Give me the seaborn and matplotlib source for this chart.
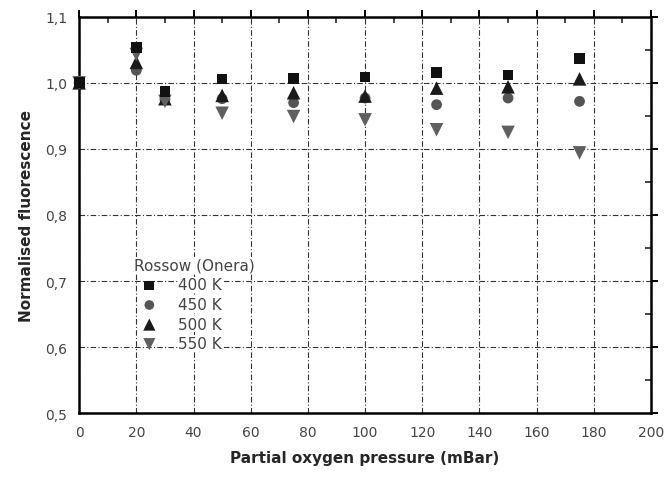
"""
Normalised fluorescence vs partial oxygen pressure (Rossow, Onera).
"""

import matplotlib
matplotlib.use("Agg")
import matplotlib.pyplot as plt
import matplotlib.ticker as mticker
import seaborn as sns
import pandas as pd

# pressures (mBar)
pressure = [0, 20, 30, 50, 75, 100, 125, 150, 175]

# normalised fluorescence per temperature
fluo_400 = [1.000, 1.054, 0.987, 1.006, 1.007, 1.009, 1.016, 1.012, 1.037]
fluo_450 = [1.000, 1.019, 0.975, 0.976, 0.970, 0.977, 0.967, 0.977, 0.972]
fluo_500 = [1.000, 1.031, 0.976, 0.981, 0.985, 0.980, 0.992, 0.994, 1.006]
fluo_550 = [1.000, 1.043, 0.972, 0.954, 0.949, 0.944, 0.929, 0.925, 0.894]

labels = ["400 K", "450 K", "500 K", "550 K"]

rows = []
for lab, vals in zip(labels, [fluo_400, fluo_450, fluo_500, fluo_550]):
    for p, v in zip(pressure, vals):
        rows.append({"pressure": p, "fluo": v, "temp": lab})
df = pd.DataFrame(rows)

sns.set_style("white")
plt.rcParams["font.family"] = ["DejaVu Sans"]

fig = plt.figure(figsize=(6.65, 4.81), dpi=100)
ax = fig.add_axes([0.119, 0.139, 0.860, 0.824])

palette = {"400 K": "#111111", "450 K": "#555555", "500 K": "#1a1a1a", "550 K": "#606060"}
markers = {"400 K": "s", "450 K": "o", "500 K": "^", "550 K": "v"}
sizes = {"400 K": 60, "450 K": 60, "500 K": 95, "550 K": 95}
zorders = {"400 K": 6, "450 K": 3, "500 K": 4, "550 K": 5}

for lab in labels:
    sub = df[df["temp"] == lab]
    sns.scatterplot(data=sub, x="pressure", y="fluo", color=palette[lab],
                    marker=markers[lab], s=sizes[lab], edgecolor="none",
                    ax=ax, label=lab, zorder=zorders[lab], clip_on=False)

ax.set_xlim(0, 200)
ax.set_ylim(0.5, 1.1)
ax.xaxis.set_major_locator(mticker.MultipleLocator(20))
ax.xaxis.set_minor_locator(mticker.MultipleLocator(10))
ax.yaxis.set_major_locator(mticker.MultipleLocator(0.1))
ax.yaxis.set_minor_locator(mticker.MultipleLocator(0.05))
ax.yaxis.set_major_formatter(mticker.FuncFormatter(lambda v, _: f"{v:.1f}".replace(".", ",")))

ax.grid(True, which="major", color="#333333", linestyle=(0, (5, 2, 1, 2)), linewidth=0.8)
for sp in ax.spines.values():
    sp.set_linewidth(1.8)
    sp.set_color("black")

ax.tick_params(which="major", direction="out", length=5, width=1.4,
               labelsize=10, labelcolor="#444444", color="black")
ax.tick_params(which="minor", direction="in", length=4, width=1.2)
ax.tick_params(which="both", top=True, right=True)
ax.tick_params(axis="both", which="both", labeltop=False, labelright=False)

ax.set_xlabel("Partial oxygen pressure (mBar)", fontsize=11, fontweight="bold", labelpad=8)
ax.set_ylabel("Normalised fluorescence", fontsize=11, fontweight="bold", labelpad=8)

leg = ax.legend(title="Rossow (Onera)", loc="upper left", bbox_to_anchor=(0.08, 0.415),
                frameon=False, fontsize=11, title_fontsize=11, handletextpad=0.9,
                labelspacing=0.3, borderpad=0.1, markerscale=0.9, alignment="left")
leg.set_zorder(10)
leg.get_title().set_color("#444444")
leg.get_title().set_bbox(dict(facecolor="white", edgecolor="none", pad=0.5))
for t in leg.get_texts():
    t.set_color("#444444")
    t.set_bbox(dict(facecolor="white", edgecolor="none", pad=0.5))

fig.savefig("out.png", dpi=100)
